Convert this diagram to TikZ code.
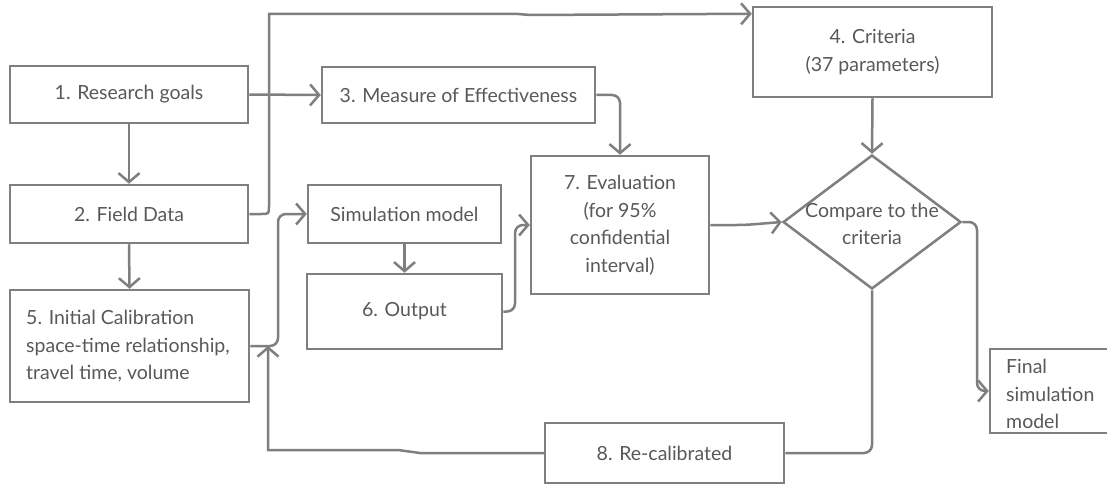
\documentclass[tikz,border=0pt]{standalone}
\usepackage{fontspec}
\setmainfont{Lato}
\usetikzlibrary{arrows.meta,shapes.geometric,calc}
\definecolor{linec}{HTML}{7F7F7F}
\definecolor{txtc}{HTML}{595959}
\tikzset{
  box/.style={draw=linec, line width=2.5pt, rectangle, inner sep=0pt,
    text=txtc, align=center, font=\fontsize{19.5}{27.5}\selectfont},
  lbl/.style={text=txtc, inner sep=0pt, font=\fontsize{19.5}{27.5}\selectfont},
  conn/.style={draw=linec, line width=2.5pt, rounded corners=8pt},
  arr/.style={conn, -{Straight Barb[length=9pt, width=21pt, line width=2.5pt]}}
}
\begin{document}
\begin{tikzpicture}[x=1pt, y=-1pt]
\useasboundingbox (0,0) rectangle (1107,484);
\clip (0,0) rectangle (1107,484);
\fill[white] (0,0) rectangle (1107,484);

% process boxes
\node[box, minimum width=238pt, minimum height=57pt] (b1) at (129,94.5) {1. Research goals};
\node[box, minimum width=238pt, minimum height=58pt] (b2) at (129,214) {2. Field Data};
\node[box, minimum width=239pt, minimum height=112pt] (b5) at (129.5,346) {};
\node[lbl, anchor=west, align=left] (b5t) at (26,346.5)
  {5. Initial Calibration\\space-time relationship,\\travel time, volume};
\node[box, minimum width=273pt, minimum height=56pt] (b3) at (458.5,95) {3. Measure of Effectiveness};
\node[box, minimum width=193pt, minimum height=58pt] (sim) at (404.5,214) {Simulation model};
\node[box, minimum width=195pt, minimum height=75pt] (b6) at (404.5,311.5) {6. Output};
\node[box, minimum width=178pt, minimum height=138pt] (b7) at (620,225)
  {7. Evaluation\\(for 95\%\\confidential\\interval)};
\node[box, minimum width=239pt, minimum height=90pt] (b4) at (872.5,52)
  {4. Criteria\\(37 parameters)};
\node[box, minimum width=239pt, minimum height=60pt] (b8) at (664.5,453) {8. Re-calibrated};
\node[box, minimum width=160pt, minimum height=84pt] (fin) at (1070,391) {};
\node[lbl, anchor=west, align=left] (fint) at (1006,394)
  {Final\\simulation\\model};

% decision
\node[draw=linec, line width=2.5pt, diamond, minimum width=178pt, minimum height=134pt,
  inner sep=0pt] (dia) at (872,222) {};
\node[lbl, align=center] (diat) at (872,224) {Compare to the\\criteria};

% connectors
\draw[arr] (b1.south) -- (b2.north);
\draw[arr] (b2.south) -- (b5.north);
\draw[arr] (b1.east) -- (b3.west);
\draw[arr, rounded corners=0pt] (b2.east) -- (261,214) .. controls (269,214) .. (269,206)
  -- (269,14) -- (518,14) -- (530,15) -- ($(b4.north west)+(0,8)$);
\draw[arr] (b3.east) -| (b7.north);
\draw[arr] (sim.south) -- (b6.north);
\draw[arr] (b5.east) -- (278,346) -- (278,214) -- (sim.west);
\draw[arr] (b6.east) -- (515,311.5) -- (515,225) -- (b7.west);
\draw[arr] (b7.east) -- (745,225) -- (dia.west);
\draw[arr] (b4.south) -- (dia.north);
\draw[arr] (dia.east) -- (977,222) |- (fin.west);
\draw[conn] (dia.south) |- (b8.east);
\coordinate (rc) at (268,346);
\draw[arr, rounded corners=0pt] (b8.west) -- (420,453) -- (398,450) -- (268,450) -- (rc);
\end{tikzpicture}
\end{document}
